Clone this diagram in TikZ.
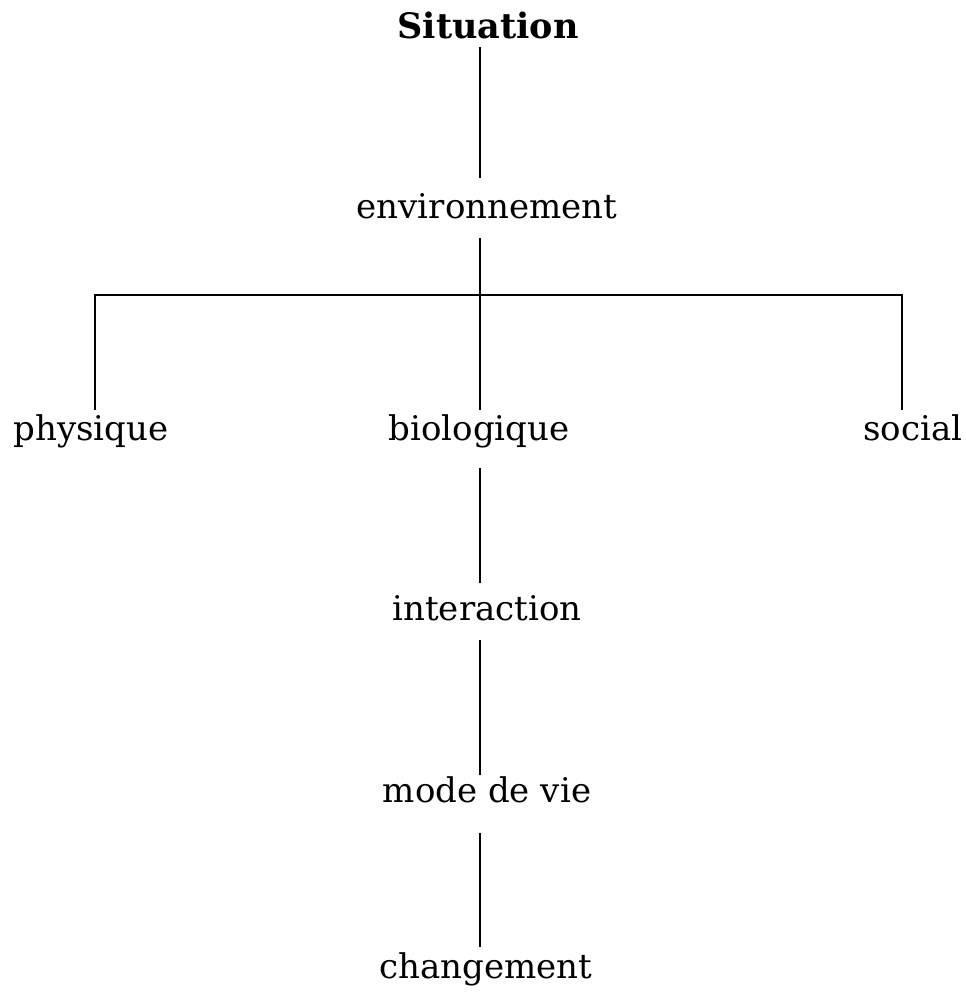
\documentclass[tikz,border=0pt]{standalone}
\usepackage{fontspec}
\setmainfont{DejaVu Serif}
\begin{document}
\begin{tikzpicture}[x=1pt,y=-1pt,
  lbl/.style={anchor=base,inner sep=0pt,font=\fontsize{34}{40}\selectfont},
  conn/.style={line width=1.4pt}]
\useasboundingbox (0,0) rectangle (966,994);
\node[lbl,font=\fontsize{35}{40}\selectfont\bfseries] (sit) at (488,38) {Situation};
\node[lbl] (env) at (487,218) {environnement};
\node[lbl] (phy) at (91,440) {physique};
\node[lbl] (bio) at (479,440) {biologique};
\node[lbl] (soc) at (913,440) {social};
\node[lbl] (int) at (487,620) {interaction};
\node[lbl] (mod) at (487,802) {mode de vie};
\node[lbl] (cha) at (486,978) {changement};
% connector end points
\coordinate (a1) at (480,47);  \coordinate (a2) at (480,178);
\coordinate (b1) at (480,238); \coordinate (b2) at (480,410);
\coordinate (hl) at (95,295);  \coordinate (hr) at (902,295);
\coordinate (pl) at (95,410);  \coordinate (pr) at (902,410);
\coordinate (c1) at (480,468); \coordinate (c2) at (480,583);
\coordinate (d1) at (480,640); \coordinate (d2) at (480,775);
\coordinate (e1) at (480,833); \coordinate (e2) at (480,947);
\draw[conn] (a1) -- (a2);
\draw[conn] (b1) -- (b2);
\draw[conn] (pl) -- (hl) -- (hr) -- (pr);
\draw[conn] (c1) -- (c2);
\draw[conn] (d1) -- (d2);
\draw[conn] (e1) -- (e2);
\end{tikzpicture}
\end{document}
